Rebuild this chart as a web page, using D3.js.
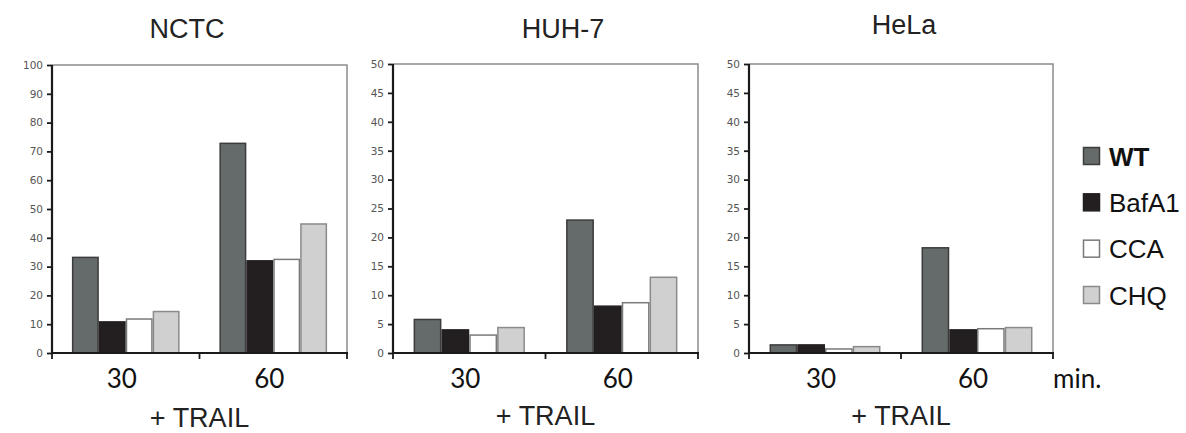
<!DOCTYPE html>
<html>
<head>
<meta charset="utf-8">
<script src="https://cdn.jsdelivr.net/npm/d3@7/dist/d3.min.js"></script>
<style>
  html, body { margin: 0; padding: 0; background: #fff; }
  svg { display: block; }
</style>
</head>
<body>
<svg id="chart" width="1186" height="433"></svg>
<script>
// ---------------- DATA ----------------
const categories = ["30", "60"];
const seriesNames = ["WT", "BafA1", "CCA", "CHQ"];
const panelTitles = ["NCTC", "HUH-7", "HeLa"];

// values per category (rows) per series (columns: WT, BafA1, CCA, CHQ)
const nctcValues = [[33.2, 10.8, 11.8, 14.4], [72.8, 32.0, 32.5, 44.8]];
const huhValues  = [[5.8, 4.0, 3.1, 4.4], [23.0, 8.1, 8.7, 13.1]];
const helaValues = [[1.4, 1.4, 0.7, 1.1], [18.2, 4.0, 4.2, 4.4]];

const nctcTicks = [0, 10, 20, 30, 40, 50, 60, 70, 80, 90, 100];
const smallTicks = [0, 5, 10, 15, 20, 25, 30, 35, 40, 45, 50];
const nctcMax = 100;
const smallMax = 50;

const xTitle = "+ TRAIL";
const unitLabel = "min.";

// ---------------- STYLES / LAYOUT ----------------
const fills = { WT: "#646b6a", BafA1: "#231f20", CCA: "#ffffff", CHQ: "#d0d0d0" };
const strokes = { WT: "#3c3c3c", BafA1: "#231f20", CCA: "#7a7a7a", CHQ: "#8a8a8a" };

const panels = [
  { title: panelTitles[0], values: nctcValues, ticks: nctcTicks, max: nctcMax,
    x0: 52, x1: 347, yTop: 65, yBot: 353, titleX: 187, titleY: 38 },
  { title: panelTitles[1], values: huhValues, ticks: smallTicks, max: smallMax,
    x0: 393, x1: 698, yTop: 64, yBot: 353, titleX: 563, titleY: 38 },
  { title: panelTitles[2], values: helaValues, ticks: smallTicks, max: smallMax,
    x0: 749, x1: 1053, yTop: 64, yBot: 353, titleX: 904, titleY: 34 }
];

const svg = d3.select("#chart");
const arial = "'Liberation Sans', Arial, sans-serif";
const calibri = "Lato, 'Open Sans', sans-serif";

panels.forEach((p, pi) => {
  const g = svg.append("g");
  const x = d3.scaleBand().domain(categories).range([p.x0, p.x1])
    .paddingInner(0.27).paddingOuter(0.135);
  const xs = d3.scaleBand().domain(seriesNames).range([0, x.bandwidth()]).padding(0);
  const y = d3.scaleLinear().domain([0, p.max]).range([p.yBot, p.yTop]);

  // top & right border
  g.append("path")
    .attr("d", `M${p.x0},${p.yTop}H${p.x1}V${p.yBot}`)
    .attr("fill", "none").attr("stroke", "#8c8c8c").attr("stroke-width", 1.5);

  // bars
  p.values.forEach((row, ci) => {
    row.forEach((v, si) => {
      const s = seriesNames[si];
      g.append("rect")
        .attr("x", x(categories[ci]) + xs(s) + 0.75)
        .attr("y", y(v))
        .attr("width", xs.bandwidth() - 1.5)
        .attr("height", y(0) - y(v))
        .attr("fill", fills[s])
        .attr("stroke", strokes[s])
        .attr("stroke-width", 1.5);
    });
  });

  // y axis
  const yAxis = d3.axisLeft(y).tickValues(p.ticks).tickSize(5).tickPadding(4);
  const ya = g.append("g").attr("transform", `translate(${p.x0},0)`).call(yAxis);
  ya.select(".domain").attr("stroke", "#1a1a1a").attr("stroke-width", 2.2)
    .attr("d", `M${-0},${p.yTop}V${p.yBot}`);
  ya.selectAll(".tick line").attr("stroke", "#1a1a1a").attr("stroke-width", 1.8);
  ya.selectAll(".tick text").attr("font-family", "'DejaVu Sans', sans-serif")
    .attr("font-size", 10.5).attr("fill", "#555");

  // x axis (line with ticks at band boundaries)
  const xa = g.append("g");
  xa.append("line").attr("x1", p.x0 - 1).attr("x2", p.x1 + 1)
    .attr("y1", p.yBot).attr("y2", p.yBot)
    .attr("stroke", "#1a1a1a").attr("stroke-width", 2.2);
  const bounds = [p.x0, (p.x0 + p.x1) / 2, p.x1];
  xa.selectAll("line.tk").data(bounds).enter().append("line")
    .attr("class", "tk")
    .attr("x1", d => d).attr("x2", d => d)
    .attr("y1", p.yBot).attr("y2", p.yBot + 6)
    .attr("stroke", "#1a1a1a").attr("stroke-width", 1.8);

  // category labels
  g.selectAll("text.cat").data(categories).enter().append("text")
    .attr("class", "cat")
    .attr("x", d => x(d) + x.bandwidth() / 2 - 4)
    .attr("y", 388)
    .attr("text-anchor", "middle")
    .attr("font-family", calibri).attr("font-size", 26).attr("fill", "#111")
    .text(d => d);

  // + TRAIL
  g.append("text")
    .attr("x", (p.x0 + p.x1) / 2)
    .attr("y", pi === 0 ? 427 : 425)
    .attr("text-anchor", "middle")
    .attr("font-family", arial).attr("font-size", 27).attr("fill", "#222")
    .text(xTitle);

  // title
  g.append("text")
    .attr("x", p.titleX).attr("y", p.titleY)
    .attr("text-anchor", "middle")
    .attr("font-family", arial).attr("font-size", 27).attr("fill", "#222")
    .text(p.title);

  if (pi === 2) {
    g.append("text")
      .attr("x", 1053).attr("y", 388)
      .attr("font-family", calibri).attr("font-size", 26).attr("fill", "#111")
      .text(unitLabel);
  }
});

// legend
const legendY = d3.scalePoint().domain(seriesNames).range([156, 295]);
const lg = svg.append("g");
seriesNames.forEach(s => {
  lg.append("rect")
    .attr("x", 1083.5).attr("y", legendY(s) - 8.5)
    .attr("width", 16).attr("height", 17)
    .attr("fill", fills[s]).attr("stroke", strokes[s]).attr("stroke-width", 1.5);
  lg.append("text")
    .attr("x", 1109).attr("y", legendY(s) + 9.5)
    .attr("font-family", arial).attr("font-size", 26)
    .attr("font-weight", s === "WT" ? "bold" : "normal")
    .attr("fill", "#111")
    .text(s);
});
</script>
</body>
</html>
